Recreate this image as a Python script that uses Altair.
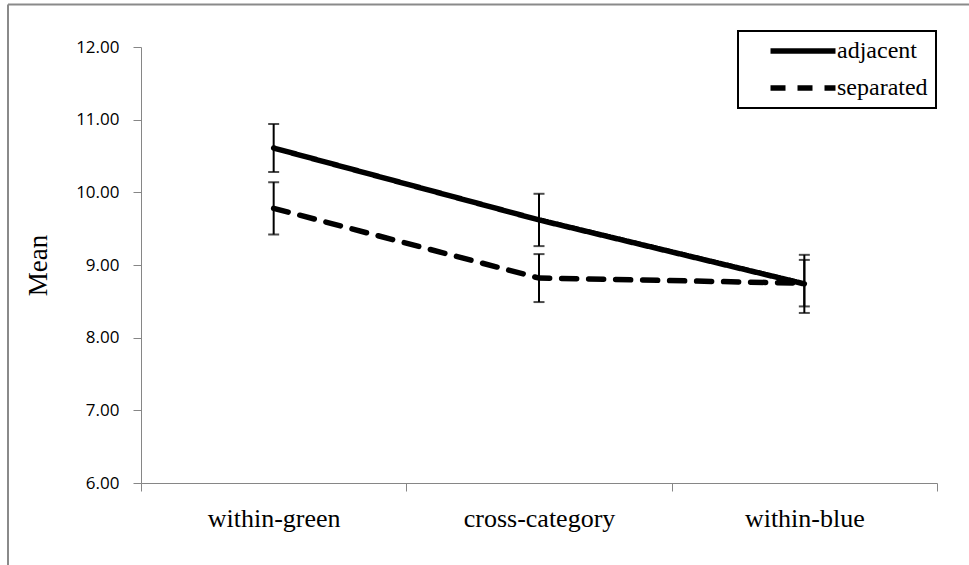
import altair as alt
import pandas as pd

categories = ["within-green", "cross-category", "within-blue"]
series = ["adjacent", "separated"]
adjacent_mean = [10.61, 9.62, 8.74]
adjacent_err = [0.33, 0.36, 0.40]
separated_mean = [9.78, 8.82, 8.75]
separated_err = [0.36, 0.33, 0.32]
y_ticks = [6, 7, 8, 9, 10, 11, 12]

rows = []
for s, means, errs in zip(series, [adjacent_mean, separated_mean], [adjacent_err, separated_err]):
    for i, (c, m, e) in enumerate(zip(categories, means, errs)):
        rows.append({"series": s, "category": c, "pos": i + 0.5,
                     "mean": m, "lo": m - e, "hi": m + e})
df = pd.DataFrame(rows)

W, H = 796, 436
LEFT, TOP = 141, 47
AXIS_GRAY = "#868686"

label_expr = " : ".join(f"datum.value == {i + 0.5} ? '{c}'" for i, c in enumerate(categories)) + " : ''"
x_values = sorted(set([float(i) for i in range(len(categories) + 1)] + [i + 0.5 for i in range(len(categories))]))

x_axis = alt.Axis(values=x_values, labelExpr=label_expr, title=None, grid=False,
                  tickOpacity={"condition": {"test": "datum.value % 1 != 0", "value": 0}, "value": 1},
                  labelFont="Liberation Serif", labelFontSize=26, labelColor="black",
                  labelPadding=14, labelOverlap=False, labelFlush=False,
                  tickSize=8, tickColor=AXIS_GRAY, domainColor=AXIS_GRAY)
y_axis = alt.Axis(values=y_ticks, format=".2f", title="Mean", grid=False,
                  titleFont="Liberation Serif", titleFontSize=27, titleFontWeight="normal",
                  titleColor="black", titleX=-103, titleY=H / 2, titleBaseline="middle",
                  titleAlign="center",
                  labelFont="Open Sans", labelFontSize=17, labelColor="black", labelPadding=14,
                  tickSize=8, tickColor=AXIS_GRAY, domainColor=AXIS_GRAY)

x_scale = alt.Scale(domain=[0, len(categories)], nice=False, zero=False)
y_scale = alt.Scale(domain=[6, 12], nice=False, zero=False)

base = alt.Chart(df)

lines = base.mark_line(strokeWidth=5.5, color="black", strokeCap="round").encode(
    x=alt.X("pos:Q", scale=x_scale, axis=x_axis),
    y=alt.Y("mean:Q", scale=y_scale, axis=y_axis),
    strokeDash=alt.StrokeDash("series:N",
                              scale=alt.Scale(domain=series, range=[[1, 0], [15, 12]]),
                              legend=alt.Legend(orient="none", legendX=597, legendY=-16,
                                                title=None, symbolType="M-4,0H4", symbolSize=264,
                                                symbolStrokeWidth=5.5, symbolStrokeColor="black",
                                                symbolOffset=45,
                                                labelFont="Liberation Serif", labelFontSize=24,
                                                labelColor="black", labelOffset=22, rowPadding=13,
                                                padding=8, strokeColor="black", fillColor="white")),
)

rules = base.mark_rule(color="black", strokeWidth=2).encode(
    x=alt.X("pos:Q", scale=x_scale, axis=x_axis),
    y=alt.Y("lo:Q", scale=y_scale, axis=y_axis),
    y2="hi:Q",
)
caps_lo = base.mark_tick(orient="horizontal", size=11, thickness=2, color="black").encode(
    x=alt.X("pos:Q", scale=x_scale, axis=x_axis),
    y=alt.Y("lo:Q", scale=y_scale, axis=y_axis),
)
caps_hi = base.mark_tick(orient="horizontal", size=11, thickness=2, color="black").encode(
    x=alt.X("pos:Q", scale=x_scale, axis=x_axis),
    y=alt.Y("hi:Q", scale=y_scale, axis=y_axis),
)

frame_data = alt.Data(values=[{"k": 1}])
frame_left = alt.Chart(frame_data).mark_rule(color="#8a8a8a", strokeWidth=2).encode(
    x=alt.value(8 - LEFT), y=alt.value(4.5 - TOP), y2=alt.value(565 - TOP))
frame_top = alt.Chart(frame_data).mark_rule(color="#8a8a8a", strokeWidth=2).encode(
    x=alt.value(8 - LEFT), x2=alt.value(969 - LEFT), y=alt.value(4.5 - TOP))

chart = alt.layer(frame_left, frame_top, lines, rules, caps_lo, caps_hi).properties(
    width=W, height=H,
    autosize=alt.AutoSizeParams(type="none"),
    padding={"left": LEFT, "top": TOP, "right": 969 - LEFT - W, "bottom": 565 - TOP - H},
    background="white",
).configure_view(stroke=None).configure_legend(strokeWidth=2)

chart.save("out.html", embed_options={"renderer": "svg", "actions": False})
